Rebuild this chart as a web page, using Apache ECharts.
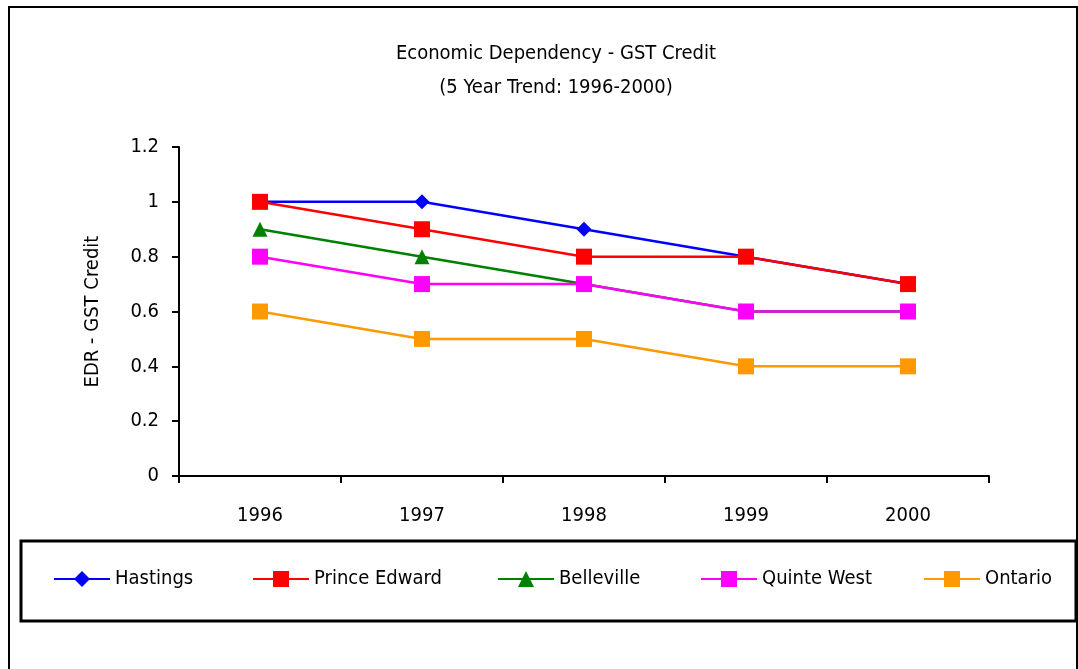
<!DOCTYPE html>
<html>
<head>
<meta charset="utf-8">
<script src="https://cdn.jsdelivr.net/npm/echarts@6/dist/echarts.min.js"></script>
<style>
    html, body { margin: 0; padding: 0; background: #fff; }
    #chart { width: 1078px; height: 669px; }
</style>
</head>
<body>
<div id="chart"></div>
<script>
    // categories and values
    var years = ['1996', '1997', '1998', '1999', '2000'];
    var hastings = [1, 1, 0.9, 0.8, 0.7];
    var princeEdward = [1, 0.9, 0.8, 0.8, 0.7];
    var belleville = [0.9, 0.8, 0.7, 0.6, 0.6];
    var quinteWest = [0.8, 0.7, 0.7, 0.6, 0.6];
    var ontario = [0.6, 0.5, 0.5, 0.4, 0.4];

    var seriesNames = ['Hastings', 'Prince Edward', 'Belleville', 'Quinte West', 'Ontario'];
    var seriesData = [hastings, princeEdward, belleville, quinteWest, ontario];
    var seriesColors = ['#0000ff', '#ff0000', '#008000', '#ff00ff', '#ff9900'];
    var seriesSymbols = ['diamond', 'rect', 'triangle', 'rect', 'rect'];
    var symbolSizes = [15, 16, 15, 16, 16];
    var legendLeft = [48, 247, 492, 695, 918];

    var font = '"DejaVu Sans Condensed", sans-serif';
    var fs = 20;

    var chart = echarts.init(document.getElementById('chart'));

    var legends = seriesNames.map(function (name, i) {
        return {
            data: [name],
            left: legendLeft[i],
            top: 564,
            itemWidth: 56,
            itemHeight: 20,
            itemGap: 6,
            textStyle: { fontFamily: font, fontSize: fs, color: '#000' },
            selectedMode: false
        };
    });

    var series = seriesNames.map(function (name, i) {
        return {
            name: name,
            type: 'line',
            data: seriesData[i],
            symbol: seriesSymbols[i],
            symbolSize: symbolSizes[i],
            showAllSymbol: true,
            lineStyle: { color: seriesColors[i], width: 2.5 },
            itemStyle: { color: seriesColors[i] },
            animation: false
        };
    });

    var option = {
        backgroundColor: '#fff',
        title: {
            text: 'Economic Dependency - GST Credit\n(5 Year Trend: 1996-2000)',
            left: 551,
            textAlign: 'center',
            top: 32,
            textStyle: { fontFamily: font, fontSize: fs, fontWeight: 'normal', color: '#000', lineHeight: 34 }
        },
        graphic: [
            { type: 'rect', shape: { x: 9, y: 7, width: 1068, height: 670 }, style: { fill: 'none', stroke: '#000', lineWidth: 2 }, z: 0 },
            { type: 'rect', shape: { x: 21, y: 541, width: 1055, height: 80 }, style: { fill: 'none', stroke: '#000', lineWidth: 3 }, z: 0 }
        ],
        legend: legends,
        grid: { left: 179, right: 89, top: 147, bottom: 193, containLabel: false },
        xAxis: {
            type: 'category',
            data: years,
            boundaryGap: true,
            axisLine: { lineStyle: { color: '#000', width: 2 } },
            axisTick: { show: true, length: 7, inside: false, lineStyle: { color: '#000', width: 2 } },
            axisLabel: { fontFamily: font, fontSize: fs, color: '#000', margin: 30 },
            splitLine: { show: false }
        },
        yAxis: {
            type: 'value',
            min: 0,
            max: 1.2,
            interval: 0.2,
            name: 'EDR - GST Credit',
            nameLocation: 'middle',
            nameGap: 76,
            nameTextStyle: { fontFamily: font, fontSize: fs, color: '#000' },
            axisLine: { show: true, lineStyle: { color: '#000', width: 2 } },
            axisTick: { show: true, length: 7, lineStyle: { color: '#000', width: 2 } },
            axisLabel: {
                fontFamily: font, fontSize: fs, color: '#000', margin: 20,
                formatter: function (v) { return String(Math.round(v * 10) / 10); }
            },
            splitLine: { show: false }
        },
        series: series
    };

    chart.setOption(option);
</script>
</body>
</html>
